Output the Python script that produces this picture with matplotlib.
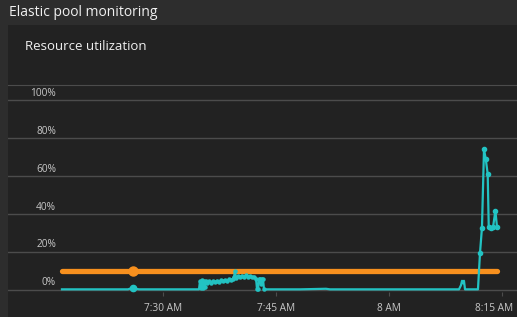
import pandas as pd
import matplotlib
matplotlib.use("Agg")
import matplotlib.pyplot as plt
import matplotlib.transforms as mtransforms

plt.rcParams["font.family"] = ["Open Sans", "DejaVu Sans"]

# minutes after 7:00 and utilization (%) for the teal series
teal_minutes = [16.59, 21.64, 25.35, 25.75, 26.02, 26.41, 26.81, 34.78, 34.91, 35.04,
                35.18, 35.31, 35.44, 35.57, 35.71, 35.84, 36.11, 36.37, 36.64, 36.90,
                37.17, 37.43, 37.70, 37.96, 38.23, 38.50, 38.76, 39.03, 39.29, 39.43,
                39.56, 39.69, 39.96, 40.22, 40.49, 40.75, 41.02, 41.28, 41.55, 41.81,
                42.08, 42.35, 42.48, 42.61, 42.75, 42.88, 43.01, 43.14, 43.28, 43.41,
                48.19, 51.64, 52.17, 69.29, 69.56, 69.69, 69.82, 69.95, 70.09, 71.81,
                72.08, 72.34, 72.61, 72.84, 73.10, 73.24, 73.50, 73.81, 74.12, 74.34]
teal_values = [0.3, 0.3, 0.3, 0.8, 1.0, 0.6, 0.3, 0.3, 4.5, 1.0,
               5.0, 0.8, 4.6, 1.5, 4.8, 3.5, 4.5, 3.8, 4.6, 4.0,
               4.8, 4.2, 5.0, 4.5, 5.2, 4.8, 5.5, 5.2, 6.0, 7.0,
               9.8, 6.5, 7.2, 6.8, 7.5, 7.0, 7.6, 7.0, 7.3, 6.8,
               7.0, 6.0, 0.5, 0.3, 5.5, 6.0, 3.0, 6.0, 5.5, 0.3,
               0.3, 0.6, 0.3, 0.3, 2.5, 4.8, 3.5, 4.8, 0.3, 0.3,
               19.5, 32.8, 74.0, 69.0, 61.0, 33.0, 32.6, 33.0, 41.7, 33.0]

# orange series: flat limit
orange_minutes = [16.59, 74.34]
orange_values = [10, 10]

# highlighted (hover) point
hover_minute = 26.02
hover_teal = 1.0
hover_orange = 10

y_ticks = [0, 20, 40, 60, 80, 100]
y_labels = ["0%", "20%", "40%", "60%", "80%", "100%"]
x_tick_minutes = [30, 45, 60, 75]
x_tick_labels = ["7:30 AM", "7:45 AM", "8 AM", "8:15 AM"]

base = pd.Timestamp("2024-01-01 07:00:00")
def to_time(mins):
    return [base + pd.Timedelta(minutes=m) for m in mins]

teal_t = to_time(teal_minutes)
orange_t = to_time(orange_minutes)

outer_bg = "#2d2d2d"
panel_bg = "#222222"
grid_c = "#4c4c4c"
text_c = "#c8c8c8"
teal = "#22c3c3"
orange = "#f7901e"

W, H = 517, 317
fig = plt.figure(figsize=(W / 100, H / 100), dpi=100)
fig.patch.set_facecolor(outer_bg)

# inner panel as a background axes
bg = fig.add_axes([8 / W, 0, 1 - 8 / W, 1 - 25 / H], zorder=-5)
bg.set_axis_off()
bg.add_patch(plt.Rectangle((0, 0), 1, 1, transform=bg.transAxes, color=panel_bg))

fig.text(9 / W, 1 - 12 / H, "Elastic pool monitoring", color="#f0f0f0",
         fontsize=10, va="center", ha="left")
fig.text(25 / W, 1 - 46 / H, "Resource utilization", color="#f0f0f0",
         fontsize=9.5, va="center", ha="left")

ax = fig.add_axes([8 / W, 1 - 292 / H, 1 - 8 / W, (292 - 85) / H])
ax.set_facecolor("none")

ax.set_xlim(base + pd.Timedelta(minutes=9.43), base + pd.Timedelta(minutes=76.99))
ax.set_ylim(-1.1, 107.9)

label_x = (56 - 8) / (W - 8)
for v in y_ticks:
    ax.axhline(v, color=grid_c, lw=1, zorder=1)
for v, lab in zip(y_ticks, y_labels):
    ax.annotate(lab, xy=(label_x, v), xycoords=("axes fraction", "data"),
                xytext=(0, 5), textcoords="offset points", ha="right", va="center",
                color=text_c, fontsize=7.3)

ax.plot(orange_t, orange_values, color=orange, lw=3.8, solid_capstyle="round", zorder=3)
ax.plot(teal_t, teal_values, color=teal, lw=1.6, zorder=4)
ax.plot(teal_t[8:50], teal_values[8:50], "o", color=teal, ms=2.2, zorder=4)
ax.plot(teal_t[60:], teal_values[60:], "o", color=teal, ms=3, zorder=4)

ax.plot(to_time([hover_minute]), [hover_orange], "o", color=orange, ms=6.5, zorder=5)
ax.plot(to_time([hover_minute]), [hover_teal], "o", color=teal, ms=4.5, zorder=5)

ax.set_yticks([])
ax.set_xticks(to_time(x_tick_minutes))
ax.set_xticklabels(x_tick_labels)
ax.tick_params(axis="x", colors=grid_c, labelcolor=text_c, labelsize=7.3,
               length=3, pad=5)
last = ax.get_xticklabels()[-1]
last.set_transform(last.get_transform() +
                   mtransforms.ScaledTranslation(-8 / 100, 0, fig.dpi_scale_trans))

for s in ["left", "right", "bottom"]:
    ax.spines[s].set_visible(False)
ax.spines["top"].set_color(grid_c)

fig.savefig("out.png", dpi=100, facecolor=fig.get_facecolor())
